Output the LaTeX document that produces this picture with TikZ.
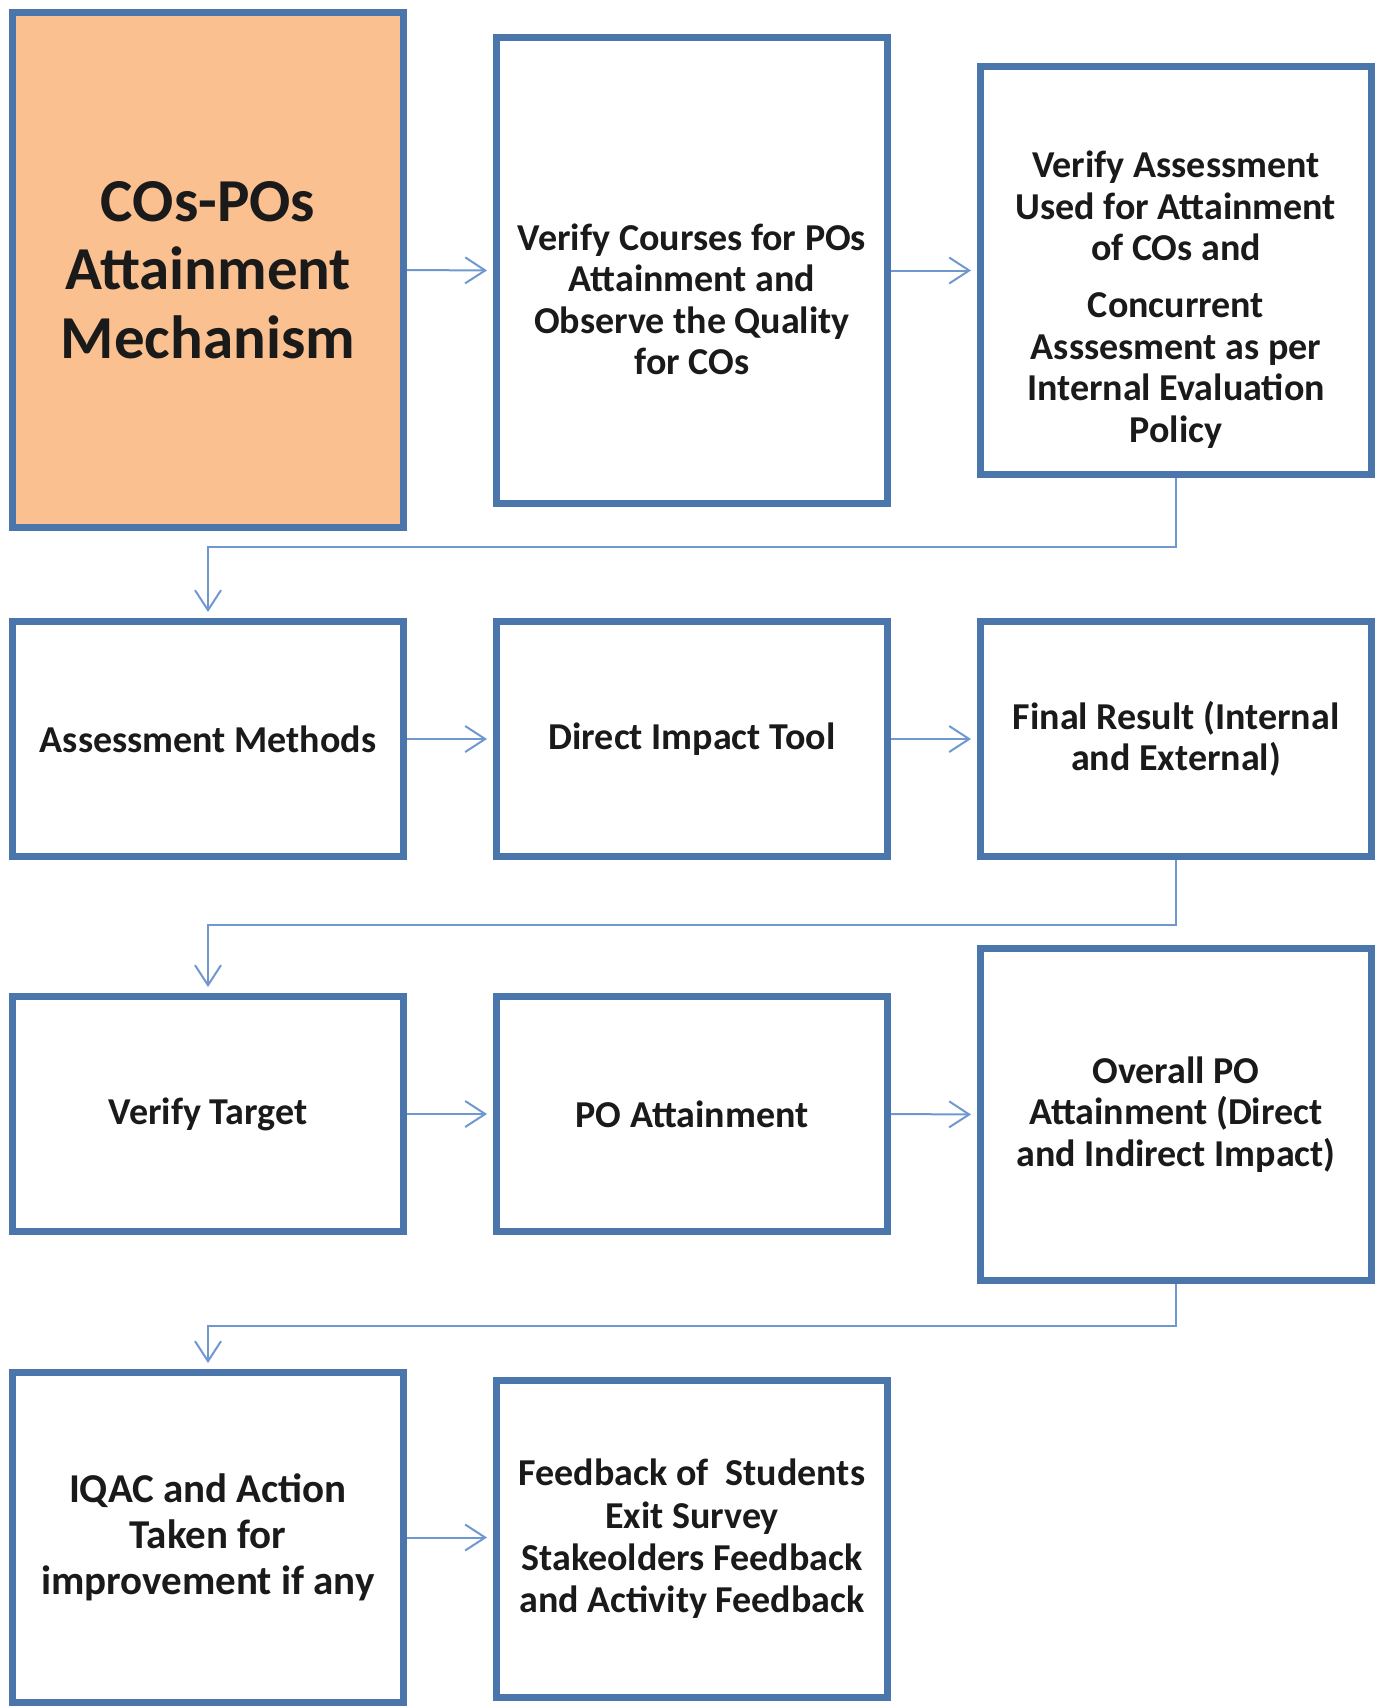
\documentclass[tikz,border=0pt]{standalone}
\usepackage{fontspec}
\setmainfont{Carlito}
\usetikzlibrary{arrows.meta}
\usetikzlibrary{positioning}
\definecolor{boxline}{RGB}{74,118,172}
\definecolor{linkline}{RGB}{112,152,208}
\definecolor{mechfill}{RGB}{250,192,144}
\definecolor{inktext}{RGB}{26,26,26}

\begin{document}
\begin{tikzpicture}[x=0.5pt, y=-0.5pt,
                box/.style={rectangle, draw=boxline, line width=3.5pt, fill=white, minimum width=195.5pt, inner sep=2pt, align=center, text=inktext, font=\bfseries\fontsize{19}{20.7}\selectfont},
                txt/.style={align=center, text=inktext, font=\bfseries\fontsize{19}{20.7}\selectfont},
                link/.style={draw=linkline, line width=1pt, -{Straight Barb[length=10pt,width=13pt]}, shorten >=3pt}
            ]
            \useasboundingbox (0,0) rectangle (1383,1708);
            % first row
            \node[box, fill=mechfill, minimum height=257.5pt, font=\bfseries\fontsize{30.5}{34.3}\selectfont] (mech) at (208,270) {COs-POs\\Attainment\\Mechanism};
            \node[box, minimum height=233pt, label={[name=coursestext, txt, yshift=-14.5pt]center:{Verify Courses for POs\\Attainment and\\Observe the Quality\\for COs}}] (courses) at (692,270.5) {};
            \node[box, minimum height=204pt, label={[name=assesstext, txt, yshift=-14.5pt]center:{Verify Assessment\\Used for Attainment\\of COs and\\[8pt]Concurrent\\Asssesment as per\\Internal Evaluation\\Policy}}] (assess) at (1176,270.5) {};
            % second row
            \node[box, minimum height=117.5pt] (methods) at (208,739) {Assessment Methods};
            \node[box, minimum height=117.5pt] (impact) at (692,739) {Direct Impact Tool};
            \node[box, minimum height=117.5pt] (result) at (1176,739) {Final Result (Internal\\and External)};
            % third row
            \node[box, minimum height=117.5pt] (target) at (208,1114) {Verify Target};
            \node[box, minimum height=117.5pt] (poatt) at (692,1114) {PO Attainment};
            \node[box, minimum height=166pt] (overall) at (1176,1114.5) {Overall PO\\Attainment (Direct\\and Indirect Impact)};
            % fourth row
            \node[box, minimum height=165pt, font=\bfseries\fontsize{20.5}{23}\selectfont] (iqac) at (208,1537.5) {IQAC and Action\\Taken for\\improvement if any};
            \node[box, minimum height=158.5pt, font=\bfseries\fontsize{19}{21.2}\selectfont] (feedback) at (692,1539) {Feedback of~ Students\\Exit Survey\\Stakeolders Feedback\\and Activity Feedback};
            % connectors
            \path[link] (mech.east) -- (courses.west);
            \path[link] (courses.east) -- (assess.west);
            \path[link] (assess.south) -- ++(0,69) -| (methods.north);
            \path[link] (methods.east) -- (impact.west);
            \path[link] (impact.east) -- (result.west);
            \path[link] (result.south) -- ++(0,65) -| (target.north);
            \path[link] (target.east) -- (poatt.west);
            \path[link] (poatt.east) -- (overall.west);
            \path[link] (overall.south) -- ++(0,42) -| (iqac.north);
            \path[link] (iqac.east) -- (iqac.east -| feedback.west);
        \end{tikzpicture}
\end{document}
